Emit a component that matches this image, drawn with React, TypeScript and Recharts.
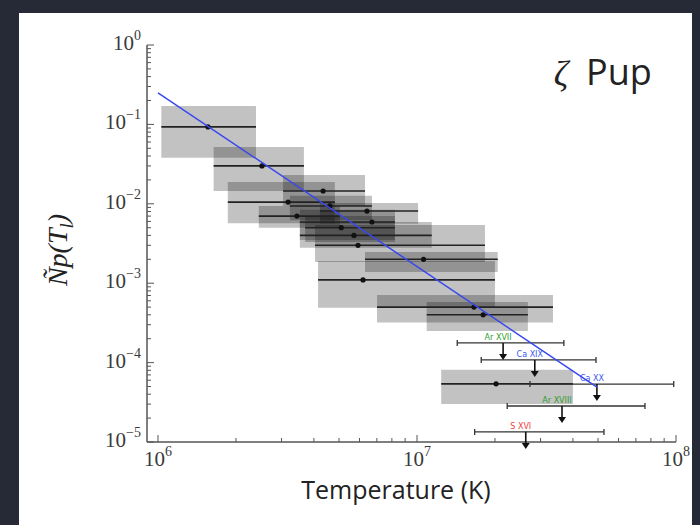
import {
  ComposedChart,
  XAxis,
  YAxis,
  Scatter,
  ErrorBar,
  ReferenceArea,
} from "recharts";

// line emission measures: peak temperature (K) with its range, and Np with its range
const boxTemp = [1.56e6, 2.52e6, 3.18e6, 4.34e6, 3.44e6, 4.61e6, 5.1e6, 6.41e6, 6.7e6, 5.71e6, 5.92e6, 1.06e7, 6.19e6, 1.66e7, 1.8e7, 2.02e7];
const boxTempLow = [1.03e6, 1.64e6, 1.86e6, 3.04e6, 2.45e6, 3.23e6, 3.7e6, 4.22e6, 3.53e6, 3.53e6, 4.04e6, 6.3e6, 4.15e6, 7.01e6, 1.09e7, 1.24e7];
const boxTempHigh = [2.39e6, 3.66e6, 4.82e6, 6.3e6, 5.04e6, 6.7e6, 8.22e6, 1.01e7, 8.22e6, 1.14e7, 1.83e7, 2.05e7, 2.0e7, 3.35e7, 2.68e7, 4.0e7];
const boxNp = [0.093, 0.03, 0.0105, 0.0145, 0.007, 0.0094, 0.005, 0.0081, 0.0059, 0.004, 0.003, 0.002, 0.0011, 0.0005, 0.0004, 5.4e-5];
const boxNpLow = [0.038, 0.0145, 0.0057, 0.0094, 0.005, 0.0062, 0.0033, 0.0056, 0.0035, 0.0028, 0.00185, 0.00138, 0.00049, 0.00032, 0.00025, 3.0e-5];
const boxNpHigh = [0.17, 0.052, 0.0188, 0.0231, 0.0094, 0.0126, 0.007, 0.0102, 0.0084, 0.0059, 0.0054, 0.00247, 0.0019, 0.00071, 0.00058, 8.1e-5];

// upper limits
const limitIons = ["Ar XVII", "Ca XIX", "Ca XX", "Ar XVIII", "S XVI"];
const limitTemp = [2.15e7, 2.85e7, 4.95e7, 3.63e7, 2.63e7];
const limitTempLow = [1.43e7, 1.77e7, 2.73e7, 2.23e7, 1.67e7];
const limitTempHigh = [3.69e7, 4.91e7, 9.8e7, 7.59e7, 5.27e7];
const limitNp = [1.77e-4, 1.08e-4, 5.37e-5, 2.84e-5, 1.34e-5];
const limitColors = ["#2f9e2f", "#3b57f2", "#3b57f2", "#2f9e2f", "#f04040"];

// power-law fit
const fitTemp = [1e6, 4.95e7];
const fitNp = [0.25, 4.9e-5];

const xTicks = [1e6, 2e6, 3e6, 4e6, 5e6, 6e6, 7e6, 8e6, 9e6, 1e7, 2e7, 3e7, 4e7, 5e7, 6e7, 7e7, 8e7, 9e7, 1e8];
const yTicks = [
  1e-5, 2e-5, 3e-5, 4e-5, 5e-5, 6e-5, 7e-5, 8e-5, 9e-5,
  1e-4, 2e-4, 3e-4, 4e-4, 5e-4, 6e-4, 7e-4, 8e-4, 9e-4,
  1e-3, 2e-3, 3e-3, 4e-3, 5e-3, 6e-3, 7e-3, 8e-3, 9e-3,
  1e-2, 2e-2, 3e-2, 4e-2, 5e-2, 6e-2, 7e-2, 8e-2, 9e-2,
  0.1, 0.2, 0.3, 0.4, 0.5, 0.6, 0.7, 0.8, 0.9, 1,
];

const boxData = boxTemp.map((t, i) => ({
  t,
  n: boxNp[i],
  terr: [t - boxTempLow[i], boxTempHigh[i] - t],
}));

const limitData = limitTemp.map((t, i) => ({
  t,
  n: limitNp[i],
  terr: [t - limitTempLow[i], limitTempHigh[i] - t],
  ion: limitIons[i],
  color: limitColors[i],
}));

const fitData = fitTemp.map((t, i) => ({ t, n: fitNp[i] }));

const spine = "#555";
const tickColor = "#555";
const serif = "'Liberation Serif', 'Times New Roman', serif";

const isMajor = (v: number) =>
  Math.abs(Math.log10(v) - Math.round(Math.log10(v))) < 1e-6;
const expText = (v: number) => {
  const e = Math.round(Math.log10(v));
  return e < 0 ? `\u2212${-e}` : `${e}`;
};

function BottomTick(props: any) {
  const { x, y, payload } = props;
  const major = isMajor(payload.value);
  return (
    <g>
      <line x1={x} y1={y} x2={x} y2={y - (major ? 7 : 4)} stroke={tickColor} />
      {major && (
        <text x={x} y={y + 24} textAnchor="middle" fontFamily={serif} fontSize={21} fill="#3a3a3a">
          10
          <tspan dy={-10} fontSize={14}>
            {expText(payload.value)}
          </tspan>
        </text>
      )}
    </g>
  );
}

function TopTick(props: any) {
  const { x, y, payload } = props;
  const major = isMajor(payload.value);
  return <line x1={x} y1={y} x2={x} y2={y + (major ? 7 : 4)} stroke={tickColor} />;
}

function LeftTick(props: any) {
  const { x, y, payload } = props;
  const major = isMajor(payload.value);
  return (
    <g>
      <line x1={x} y1={y} x2={x + (major ? 7 : 4)} y2={y} stroke={tickColor} />
      {major && (
        <text x={x - 6} y={y + 5} textAnchor="end" fontFamily={serif} fontSize={21} fill="#3a3a3a">
          10
          <tspan dy={-10} fontSize={14}>
            {expText(payload.value)}
          </tspan>
        </text>
      )}
    </g>
  );
}

function RightTick(props: any) {
  const { x, y, payload } = props;
  const major = isMajor(payload.value);
  return <line x1={x} y1={y} x2={x - (major ? 7 : 4)} y2={y} stroke={tickColor} />;
}

const Dot = (p: any) => <circle cx={p.cx} cy={p.cy} r={2.6} fill="#111" />;

const LimitArrow = (p: any) => {
  const { cx, cy, payload } = p;
  return (
    <g>
      <line x1={cx} y1={cy} x2={cx} y2={cy + 12} stroke="#111" strokeWidth={1.6} />
      <path d={`M${cx - 4},${cy + 11} L${cx + 4},${cy + 11} L${cx},${cy + 17} Z`} fill="#111" />
      <text
        x={cx - 5}
        y={cy - 3}
        textAnchor="middle"
        fontFamily="'DejaVu Sans', sans-serif"
        fontSize={8}
        fill={payload.color}
      >
        {payload.ion}
      </text>
    </g>
  );
};

export default function App() {
  return (
    <div
      style={{
        position: "absolute",
        left: 0,
        top: 0,
        width: 700,
        height: 525,
        background: "#252a36",
        overflow: "hidden",
      }}
    >
      <div
        style={{
          position: "absolute",
          left: 19,
          top: 13,
          width: 673,
          height: 512,
          background: "#fff",
        }}
      />
      <div style={{ position: "absolute", left: 0, top: 0 }}>
        <ComposedChart
          width={700}
          height={525}
          margin={{ top: 45, right: 24, bottom: 43, left: 87 }}
        >
          <XAxis
            dataKey="t"
            type="number"
            scale="log"
            domain={[9.07e5, 1e8]}
            ticks={xTicks}
            interval={0}
            tick={<BottomTick />}
            tickLine={false}
            tickSize={0}
            tickMargin={0}
            height={40}
            axisLine={{ stroke: spine, strokeWidth: 1.5 }}
          />
          <XAxis
            xAxisId="top"
            orientation="top"
            dataKey="t"
            type="number"
            scale="log"
            domain={[9.07e5, 1e8]}
            allowDataOverflow
            ticks={xTicks}
            interval={0}
            tick={<TopTick />}
            tickLine={false}
            tickSize={0}
            tickMargin={0}
            height={0}
            axisLine={{ stroke: spine, strokeWidth: 1.5 }}
          />
          <YAxis
            dataKey="n"
            type="number"
            scale="log"
            domain={[1e-5, 1]}
            ticks={yTicks}
            interval={0}
            tick={<LeftTick />}
            tickLine={false}
            tickSize={0}
            tickMargin={0}
            width={60}
            axisLine={{ stroke: spine, strokeWidth: 1.5 }}
          />
          <YAxis
            yAxisId="right"
            orientation="right"
            dataKey="n"
            type="number"
            scale="log"
            domain={[1e-5, 1]}
            allowDataOverflow
            ticks={yTicks}
            interval={0}
            tick={<RightTick />}
            tickLine={false}
            tickSize={0}
            tickMargin={0}
            width={0}
            axisLine={{ stroke: spine, strokeWidth: 1.5 }}
          />

          {/* shaded Np ranges */}
          {boxData.map((d, i) => (
            <ReferenceArea
              key={i}
              x1={boxTempLow[i]}
              x2={boxTempHigh[i]}
              y1={boxNpLow[i]}
              y2={boxNpHigh[i]}
              fill="#000"
              fillOpacity={0.24}
              stroke="none"
              ifOverflow="visible"
            />
          ))}

          {/* emission measure points */}
          <Scatter data={boxData} shape={Dot} isAnimationActive={false}>
            <ErrorBar dataKey="terr" direction="x" width={0} stroke="#222" strokeWidth={1.6} />
          </Scatter>

          {/* upper limits */}
          <Scatter data={limitData} shape={LimitArrow} isAnimationActive={false}>
            <ErrorBar dataKey="terr" direction="x" width={3} stroke="#333" strokeWidth={1.3} />
          </Scatter>

          {/* fit */}
          <Scatter
            data={fitData}
            line={{ stroke: "#3848ee", strokeWidth: 1.5 }}
            shape={() => <g />}
            isAnimationActive={false}
          />
        </ComposedChart>
      </div>
      <svg
        width={700}
        height={525}
        style={{ position: "absolute", left: 0, top: 0, pointerEvents: "none" }}
      >
        <text x={561} y={86} textAnchor="middle" fontFamily={serif} fontStyle="italic" fontSize={36} fill="#222">
          ζ
        </text>
        <text x={586} y={85} fontFamily="'Open Sans', sans-serif" fontSize={36} fill="#222">
          Pup
        </text>
        <text x={396} y={499} textAnchor="middle" fontFamily="'Open Sans', sans-serif" fontSize={25} fill="#222">
          Temperature (K)
        </text>
        <text
          x={0}
          y={0}
          transform="translate(67,250) rotate(-90)"
          textAnchor="middle"
          fontFamily={serif}
          fontStyle="italic"
          fontSize={28}
          fill="#222"
        >
          Ñp(T
          <tspan dy={6} fontSize={19}>
            l
          </tspan>
          <tspan dy={-6}>)</tspan>
        </text>
      </svg>
    </div>
  );
}
